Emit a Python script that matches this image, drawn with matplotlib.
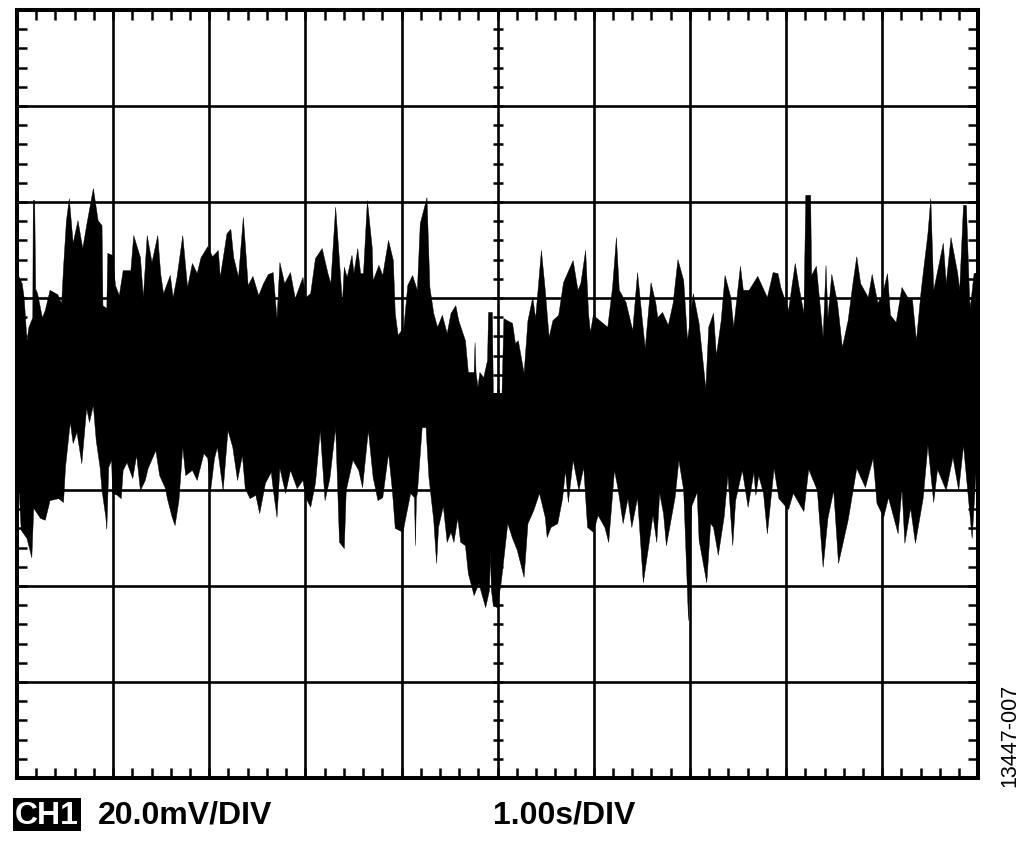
import numpy as np
import matplotlib
matplotlib.use("Agg")
import matplotlib.pyplot as plt

plt.rcParams['font.family'] = ['Liberation Sans', 'DejaVu Sans']

# envelope of the noise trace, seconds and mV read from the scope shot
t_upper = [0.00,0.05,0.07,0.10,0.12,0.16,0.165,0.18,0.19,0.21,0.26,0.29,0.34,0.42,0.46,0.48,0.51,0.54,0.58,0.63,
           0.68,0.72,0.79,0.84,0.88,0.89,0.93,0.94,0.99,1.02,1.06,1.10,1.18,1.21,1.28,1.31,1.35,1.40,1.46,1.49,
           1.52,1.59,1.62,1.66,1.72,1.77,1.82,1.87,1.91,1.98,2.03,2.09,2.11,2.18,2.22,2.25,2.30,2.35,2.38,2.40,
           2.45,2.51,2.56,2.61,2.66,2.70,2.73,2.78,2.84,2.89,2.97,3.00,3.05,3.10,3.17,3.23,3.26,3.31,3.34,3.38,
           3.40,3.43,3.48,3.50,3.54,3.57,3.60,3.64,3.69,3.70,3.76,3.80,3.86,3.91,3.93,3.96,4.02,4.06,4.11,4.16,
           4.19,4.26,4.29,4.33,4.37,4.42,4.47,4.51,4.56,4.59,4.66,4.69,4.75,4.76,4.77,4.79,4.81,4.85,4.89,4.90,
           4.92,4.94,4.95,5.04,5.06,5.15,5.18,5.21,5.27,5.31,5.36,5.39,5.45,5.49,5.53,5.57,5.63,5.68,5.78,5.83,
           5.86,5.91,5.94,5.96,5.99,6.14,6.19,6.23,6.26,6.33,6.40,6.45,6.50,6.53,6.59,6.64,6.66,6.71,6.77,6.82,
           6.87,6.93,6.97,7.03,7.09,7.16,7.19,7.24,7.27,7.32,7.36,7.42,7.45,7.52,7.55,7.61,7.70,7.80,7.86,7.91,
           7.94,8.02,8.09,8.13,8.18,8.20,8.25,8.26,8.31,8.38,8.41,8.43,8.47,8.53,8.58,8.64,8.69,8.73,8.77,8.85,
           8.89,8.95,9.00,9.05,9.08,9.14,9.20,9.26,9.31,9.35,9.40,9.47,9.50,9.53,9.63,9.66,9.71,9.78,9.80,9.84,
           9.87,9.90,9.91,9.95,9.99,10.00]
v_upper = [25.2,23.1,20.2,11.2,14.0,16.0,40.4,40.4,22.0,21.0,16.0,17.5,21.7,20.8,19.0,26.5,36.2,40.8,31.5,36.2,
           30.4,35.2,42.9,36.2,35.2,18.5,17.9,29.4,29.0,22.7,20.6,25.8,25.8,33.1,28.5,20.2,33.1,27.5,33.1,25.2,
           21.0,24.8,20.2,24.4,33.1,22.3,27.3,25.2,28.5,30.8,28.7,30.0,24.4,33.5,34.4,28.5,24.4,36.9,28.5,22.7,
           24.6,20.6,23.1,25.0,25.4,15.8,27.5,23.1,25.4,20.0,24.4,20.2,21.0,28.3,30.4,25.2,23.1,39.0,30.6,19.0,
           26.5,24.4,29.0,25.2,30.4,25.2,25.2,40.4,30.6,23.7,26.9,24.8,32.1,27.9,16.9,12.3,14.0,22.7,24.8,21.7,
           35.6,41.0,22.3,16.9,14.0,16.5,12.7,16.9,18.5,15.4,11.2,4.6,4.6,10.8,4.6,1.5,4.6,3.5,7.1,17.1,
           17.1,17.1,0.2,0.2,15.8,14.8,10.6,11.2,4.4,15.4,20.2,15.8,30.0,21.7,11.9,15.4,16.5,23.3,27.9,21.7,
           23.1,30.0,16.9,12.9,16.5,14.0,22.3,32.7,21.7,19.2,13.3,25.4,15.4,9.6,23.3,19.0,16.0,17.1,14.4,19.0,
           28.1,23.7,11.2,21.0,14.8,1.2,14.0,16.9,8.1,15.4,24.8,20.2,14.0,26.7,21.7,21.7,24.6,20.2,25.4,25.2,
           22.3,17.5,27.3,22.3,16.9,41.5,41.5,24.8,26.7,11.9,26.9,16.0,25.0,19.0,9.8,15.4,23.1,28.7,23.1,20.2,
           25.0,19.0,21.0,25.2,16.5,15.0,22.3,20.2,19.6,11.2,21.7,33.5,40.8,21.7,31.5,23.1,32.7,25.2,21.7,39.4,
           39.4,21.7,17.9,25.2,25.4,25.4]

t_lower = [0.00,0.02,0.04,0.10,0.15,0.17,0.24,0.29,0.34,0.43,0.48,0.50,0.55,0.58,0.62,0.67,0.72,0.75,0.79,0.82,
           0.86,0.88,0.92,0.93,0.95,0.98,0.99,1.04,1.08,1.10,1.14,1.20,1.24,1.28,1.33,1.36,1.44,1.48,1.54,1.56,
           1.61,1.64,1.68,1.72,1.75,1.82,1.87,1.94,1.98,2.01,2.05,2.08,2.14,2.19,2.24,2.29,2.34,2.37,2.42,2.48,
           2.52,2.58,2.64,2.66,2.70,2.73,2.79,2.84,2.91,2.97,3.00,3.05,3.10,3.15,3.20,3.25,3.31,3.35,3.40,3.42,
           3.49,3.55,3.59,3.65,3.70,3.75,3.80,3.86,3.90,3.93,4.01,4.09,4.13,4.14,4.15,4.16,4.21,4.25,4.28,4.33,
           4.36,4.38,4.43,4.47,4.51,4.54,4.58,4.61,4.66,4.69,4.75,4.80,4.87,4.91,4.92,4.93,4.95,4.99,5.03,5.05,
           5.10,5.15,5.20,5.27,5.31,5.37,5.43,5.49,5.51,5.55,5.62,5.67,5.70,5.73,5.78,5.84,5.89,5.93,5.99,6.04,
           6.11,6.15,6.21,6.25,6.30,6.35,6.39,6.45,6.51,6.57,6.61,6.65,6.68,6.72,6.75,6.84,6.88,6.93,6.95,6.98,
           7.01,7.07,7.09,7.17,7.21,7.24,7.29,7.35,7.39,7.44,7.47,7.54,7.60,7.66,7.68,7.71,7.76,7.80,7.87,7.92,
           8.02,8.07,8.18,8.23,8.32,8.38,8.43,8.49,8.54,8.64,8.73,8.82,8.90,8.94,9.01,9.06,9.16,9.20,9.23,9.29,
           9.34,9.42,9.47,9.53,9.57,9.66,9.73,9.79,9.84,9.93,9.97,10.00]
v_lower = [-20.6,-20.6,-28.3,-30.0,-34.0,-23.7,-25.8,-26.2,-22.1,-21.7,-22.5,-15.2,-5.8,-10.2,-7.9,-14.4,-2.9,-5.8,-2.3,-9.6,
           -15.2,-20.0,-25.6,-28.1,-15.2,-13.7,-20.6,-21.0,-21.7,-15.8,-14.2,-17.5,-12.7,-20.0,-17.9,-15.4,-11.7,-16.9,-19.6,-21.7,
           -25.6,-27.3,-22.1,-11.0,-16.9,-15.8,-17.9,-12.3,-13.3,-20.0,-13.3,-11.0,-20.0,-7.5,-11.0,-17.9,-12.7,-19.6,-21.7,-21.0,
           -24.8,-18.5,-16.2,-19.6,-25.6,-15.4,-20.6,-15.8,-19.6,-17.9,-21.5,-23.5,-18.5,-7.5,-22.1,-17.5,-6.9,-30.8,-32.1,-20.0,
           -13.7,-15.8,-19.4,-7.5,-17.3,-22.1,-21.5,-12.3,-20.0,-27.9,-28.7,-20.6,-21.5,-31.5,-21.5,-20.6,-6.9,-6.9,-17.3,-26.2,
           -35.2,-27.7,-23.3,-30.8,-28.7,-30.8,-25.8,-30.8,-31.5,-37.3,-41.9,-39.4,-44.4,-40.8,-32.9,-40.8,-44.0,-44.4,-39.4,-36.0,
           -26.9,-30.0,-32.5,-38.1,-26.9,-24.2,-20.6,-25.6,-29.8,-27.7,-26.9,-21.7,-15.8,-22.5,-13.7,-20.0,-15.2,-27.7,-28.7,-25.2,
           -27.7,-30.8,-15.8,-20.0,-26.9,-21.7,-27.7,-21.5,-39.2,-31.0,-25.2,-30.8,-20.6,-24.8,-31.5,-21.5,-13.7,-20.0,-31.0,-47.1,
           -23.5,-20.4,-30.4,-39.2,-26.9,-27.7,-33.5,-25.6,-16.9,-31.5,-22.1,-15.8,-23.5,-16.2,-21.0,-16.9,-20.6,-29.0,-15.4,-21.7,
           -24.0,-20.6,-24.4,-15.6,-20.0,-36.0,-25.8,-20.0,-35.2,-26.2,-15.4,-19.4,-13.3,-22.7,-25.6,-21.5,-29.0,-19.6,-31.0,-23.7,
           -31.0,-21.7,-10.6,-22.5,-15.6,-20.0,-13.1,-20.0,-10.6,-30.0,-16.5,-20.0]

time_div = 1.0   # s/DIV
volt_div = 20.0  # mV/DIV

fig = plt.figure(figsize=(10.24, 8.42), dpi=100)
ax = fig.add_axes([16.9/1024, 1-778/842, 961.5/1024, 768/842])
ax.set_xlim(0, 10*time_div)
ax.set_ylim(-4*volt_div, 4*volt_div)

ax.fill_between(t_upper, v_upper, 0, color='black', lw=0.3, zorder=2)
ax.fill_between(t_lower, v_lower, 0, color='black', lw=0.3, zorder=2)

# graticule
for i in range(1, 10):
    ax.axvline(i*time_div, color='black', lw=1.9, zorder=3)
for i in range(-3, 4):
    ax.axhline(i*volt_div, color='black', lw=1.9, zorder=3)

for s in ax.spines.values():
    s.set_linewidth(2.9)
    s.set_zorder(5)

ax.set_xticks(np.arange(0, 10.01, 0.2))
ax.set_yticks(np.arange(-80, 80.01, 4))
ax.tick_params(direction='in', length=7.2, width=1.8, top=True, right=True,
               labelbottom=False, labelleft=False)

# centre cross ticks
ax.plot(np.full(41, 5.0), np.arange(-80, 80.01, 4), ls='none', marker='_', ms=6.5, mew=1.8, color='black', zorder=4)
ax.plot(np.arange(0, 10.01, 0.2), np.zeros(51), ls='none', marker='|', ms=6.5, mew=1.8, color='black', zorder=4)

fig.patches.append(plt.Rectangle((13/1024, 1-831/842), 68/1024, 33/842, transform=fig.transFigure,
                                 facecolor='black', edgecolor='none'))
fig.text(47/1024, 1-815.5/842, 'CH1', color='white', fontsize=23, fontweight='bold', ha='center', va='center')
fig.text(98/1024, 1-815.5/842, '20.0mV/DIV', color='black', fontsize=23, fontweight='bold', ha='left', va='center')
fig.text(493/1024, 1-815.5/842, '1.00s/DIV', color='black', fontsize=23, fontweight='bold', ha='left', va='center')
fig.text(1009.5/1024, 1-735.5/842, '13447-007', color='black', fontsize=15.5, rotation=90, ha='center', va='center')

fig.savefig('out.png', dpi=100)
